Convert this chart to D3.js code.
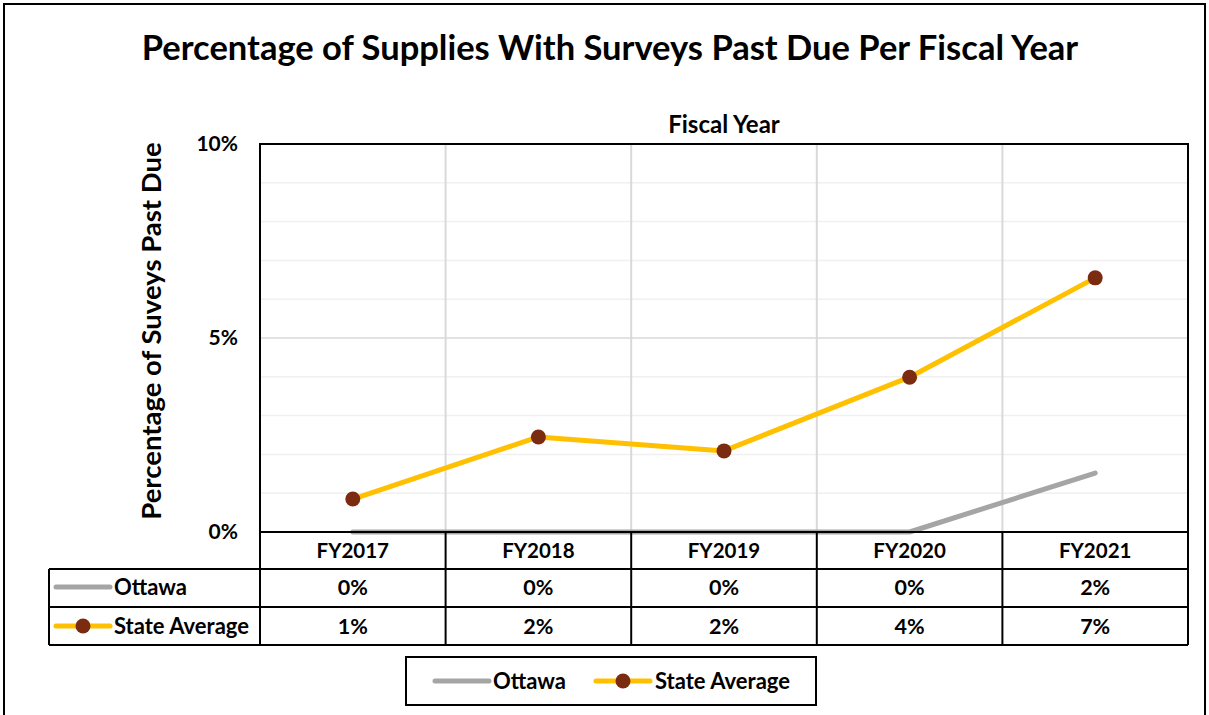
<!DOCTYPE html>
<html><head><meta charset="utf-8">
<script src="https://cdn.jsdelivr.net/npm/d3@7"></script>
<style>body{margin:0;background:#fff;} svg{display:block;} text{font-family:Lato,"Open Sans",sans-serif;font-weight:bold;fill:#000;}</style>
</head><body>
<svg id="c" width="1209" height="715"></svg>
<script>
const categories = ["FY2017","FY2018","FY2019","FY2020","FY2021"];
const ottawa = [0, 0, 0, 0, 1.52];
const stateAvg = [0.85, 2.45, 2.09, 3.99, 6.55];
const ottawaLabels = ["0%","0%","0%","0%","2%"];
const stateLabels = ["1%","2%","2%","4%","7%"];
const yTicks = [0, 5, 10];
const seriesNames = ["Ottawa","State Average"];

const svg = d3.select("#c");
const L = 260, R = 1188, T = 144, B = 532;
const x = d3.scaleBand().domain(categories).range([L, R]).padding(0);
const y = d3.scaleLinear().domain([0, 10]).range([B, T]);
const grayC = "#A5A5A5", yel = "#FFC000", dotC = "#7B2C10";
const fs = "21.5px";

// outer border
svg.append("rect").attr("x",4).attr("y",4).attr("width",1201).attr("height",720)
  .attr("fill","none").attr("stroke","#000").attr("stroke-width",2);

// title
svg.append("text").attr("x",610).attr("y",60).attr("text-anchor","middle")
  .style("font-size","34.5px").text("Percentage of Supplies With Surveys Past Due Per Fiscal Year");
svg.append("text").attr("x",724).attr("y",133).attr("text-anchor","middle")
  .style("font-size","24px").text("Fiscal Year");

// minor gridlines
svg.append("g").selectAll("line").data(d3.range(1,10).filter(v=>v!==5)).join("line")
  .attr("x1",L).attr("x2",R).attr("y1",d=>y(d)).attr("y2",d=>y(d))
  .attr("stroke","#F0F0F0").attr("stroke-width",1.5);
// major gridline
svg.append("line").attr("x1",L).attr("x2",R).attr("y1",y(5)).attr("y2",y(5))
  .attr("stroke","#D9D9D9").attr("stroke-width",1.5);
// vertical gridlines
svg.append("g").selectAll("line").data(categories.slice(1)).join("line")
  .attr("x1",d=>x(d)).attr("x2",d=>x(d)).attr("y1",T).attr("y2",B)
  .attr("stroke","#D9D9D9").attr("stroke-width",2);

// y axis tick labels via axis
const yAxis = d3.axisLeft(y).tickValues(yTicks).tickFormat(d=>d+"%").tickSize(0).tickPadding(22);
const ga = svg.append("g").attr("transform",`translate(${L},0)`).call(yAxis);
ga.select(".domain").remove();
ga.selectAll("text").style("font-size","21px").style("font-family","Lato, sans-serif").style("font-weight","bold").attr("dy","0.3em");

svg.append("text").attr("transform","translate(161,331) rotate(-90)").attr("text-anchor","middle")
  .style("font-size","27.5px").text("Percentage of Suveys Past Due");

// lines
const line = d3.line().x((d,i)=>x(categories[i])+x.bandwidth()/2).y(d=>y(d));
svg.append("path").datum(ottawa).attr("d",line).attr("fill","none").attr("stroke",grayC)
  .attr("stroke-width",5).attr("stroke-linecap","round").attr("stroke-linejoin","round");
svg.append("path").datum(stateAvg).attr("d",line).attr("fill","none").attr("stroke",yel)
  .attr("stroke-width",5).attr("stroke-linecap","round").attr("stroke-linejoin","round");
svg.append("g").selectAll("circle").data(stateAvg).join("circle")
  .attr("cx",(d,i)=>x(categories[i])+x.bandwidth()/2).attr("cy",d=>y(d)).attr("r",7.5).attr("fill",dotC);

// plot border
svg.append("rect").attr("x",L).attr("y",T).attr("width",R-L).attr("height",B-T)
  .attr("fill","none").attr("stroke","#000").attr("stroke-width",2);

// data table
const rowH = [532, 569, 607, 645];
const TL = 49;
const tg = svg.append("g").attr("stroke","#000").attr("stroke-width",2);
tg.append("line").attr("x1",L).attr("x2",R).attr("y1",rowH[0]).attr("y2",rowH[0]);
[1,2,3].forEach(i=>tg.append("line").attr("x1",TL).attr("x2",R).attr("y1",rowH[i]).attr("y2",rowH[i]));
tg.append("line").attr("x1",TL).attr("x2",TL).attr("y1",rowH[1]).attr("y2",rowH[3]);
tg.selectAll(".v").data(categories.map(c=>x(c)).concat([R])).join("line")
  .attr("x1",d=>d).attr("x2",d=>d).attr("y1",rowH[0]).attr("y2",rowH[3]);

svg.append("g").selectAll("text").data(categories).join("text")
  .attr("x",d=>x(d)+x.bandwidth()/2).attr("y",558).attr("text-anchor","middle")
  .style("font-size","20.5px").text(d=>d);
svg.append("g").selectAll("text").data(ottawaLabels).join("text")
  .attr("x",(d,i)=>x(categories[i])+x.bandwidth()/2).attr("y",595).attr("text-anchor","middle")
  .style("font-size",fs).text(d=>d);
svg.append("g").selectAll("text").data(stateLabels).join("text")
  .attr("x",(d,i)=>x(categories[i])+x.bandwidth()/2).attr("y",634).attr("text-anchor","middle")
  .style("font-size",fs).text(d=>d);

function key(g, x0, yy, withDot, col){
  g.append("line").attr("x1",x0).attr("x2",x0+54).attr("y1",yy).attr("y2",yy)
    .attr("stroke",col).attr("stroke-width",5).attr("stroke-linecap","round");
  if(withDot) g.append("circle").attr("cx",x0+27).attr("cy",yy).attr("r",7.5).attr("fill",dotC);
}
key(svg, 56, 587, false, grayC);
svg.append("text").attr("x",114).attr("y",595).style("font-size","22px").text(seriesNames[0]);
key(svg, 56, 626, true, yel);
svg.append("text").attr("x",114).attr("y",634).style("font-size","22px").text(seriesNames[1]);

// legend
svg.append("rect").attr("x",406).attr("y",657).attr("width",410).attr("height",48)
  .attr("fill","none").attr("stroke","#000").attr("stroke-width",2);
key(svg, 435, 681, false, grayC);
svg.append("text").attr("x",493).attr("y",689).style("font-size","22px").text(seriesNames[0]);
key(svg, 596, 681, true, yel);
svg.append("text").attr("x",655).attr("y",689).style("font-size","22px").text(seriesNames[1]);
</script>
</body></html>
